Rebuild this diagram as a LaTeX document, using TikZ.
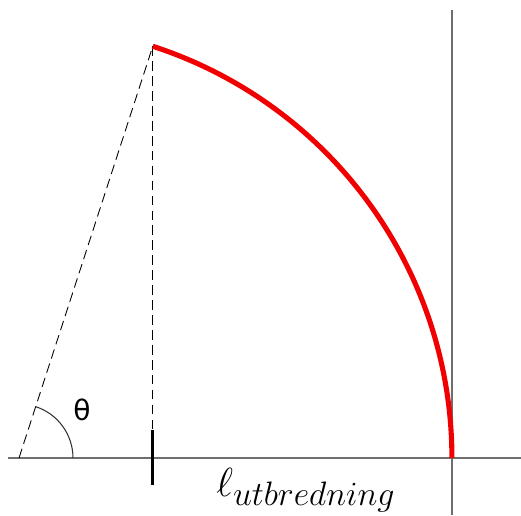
\documentclass[tikz,border=0pt]{standalone}
\usepackage{fontspec}
\newfontfamily\symfont{DejaVu Sans}
\usepackage{tikz}
\usetikzlibrary{positioning,calc}
\definecolor{axisgray}{RGB}{110,110,110}
\definecolor{pathred}{RGB}{240,0,0}
\tikzset{
  axisline/.style={draw=axisgray,line width=0.6pt},
  guideline/.style={draw=black,line width=0.5pt,dash pattern=on 5.5pt off 3pt},
  pathline/.style={draw=pathred,line width=2.9pt},
  tickline/.style={draw=black,line width=1.7pt},
  anglearc/.style={draw=black!80,line width=0.6pt}
}
\begin{document}
\begin{tikzpicture}[x=0.02cm,y=0.02cm]
  \useasboundingbox (0,0) rectangle (521,515);
  \coordinate (O) at (19,57);
  \coordinate (axisL) at (8,57);
  \coordinate (axisR) at (521,57);
  \coordinate (wallB) at (452,0);
  \coordinate (wallT) at (452,505);
  \coordinate (top) at ($(O)+(72:8.66cm)$);
  \coordinate (foot) at (top |- O);
  \coordinate (tickB) at ($(foot)+(0,-27)$);
  \coordinate (tickT) at ($(foot)+(0,28)$);
  % axes
  \draw[axisline] (axisL) -- (axisR);
  \draw[axisline] (wallB) -- (wallT);
  % construction lines
  \draw[guideline] (O) -- (top);
  \draw[guideline] (top) -- (foot);
  \draw[anglearc] ($(O)+(1.08cm,0)$) arc[start angle=0,end angle=72,radius=1.08cm];
  \draw[tickline] (tickB) -- (tickT);
  % spreading front
  \draw[pathline] (top) arc[start angle=72,end angle=0,radius=8.66cm];
  % labels
  \node (theta) at (82,105) {\symfont\fontsize{16}{19}\selectfont θ};
  \node[anchor=base west,inner sep=0pt,scale=0.93] (spread) at (216,19)
    {\fontsize{27.5}{33}\selectfont$\ell_{utbredning}$};
\end{tikzpicture}
\end{document}
